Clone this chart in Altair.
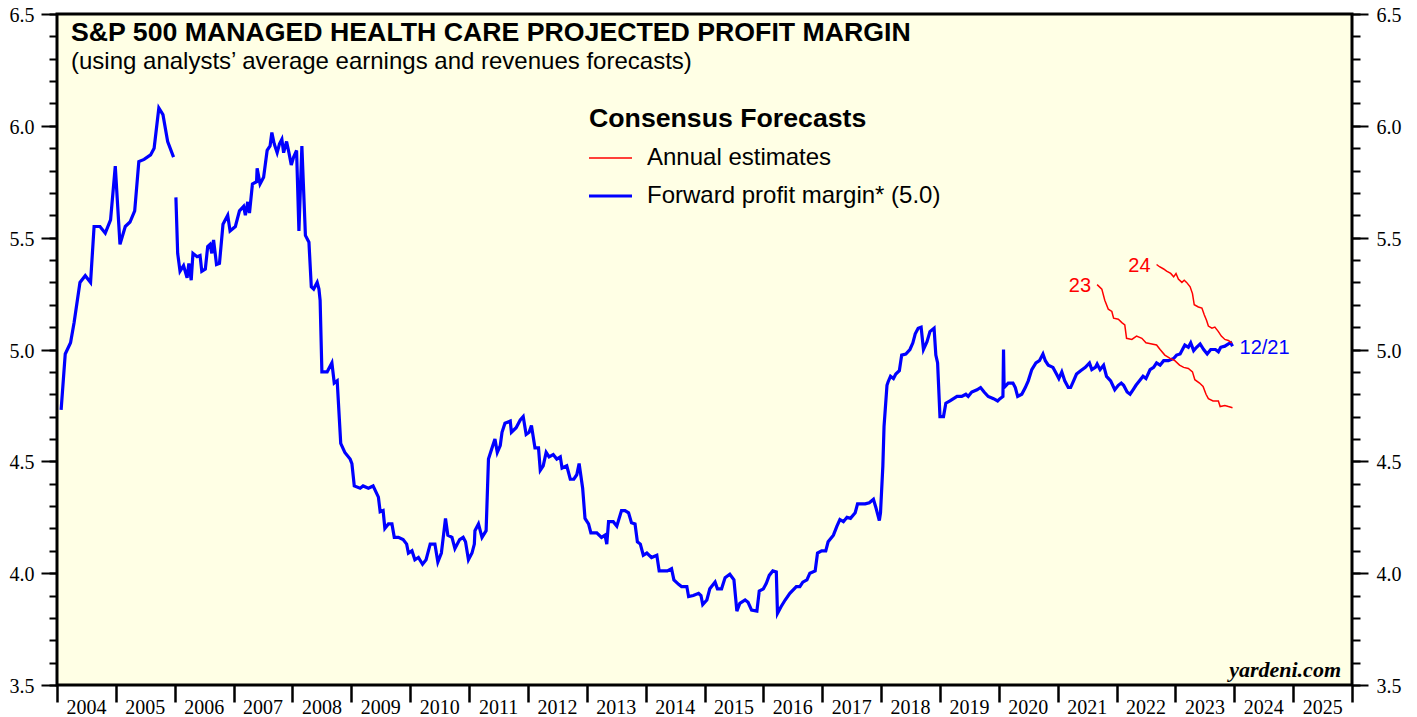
import altair as alt
import pandas as pd

# ---------------- data ----------------
# forward profit margin, first segment (2004-2005)
seg1 = [
    (2004.07, 4.73), (2004.14, 4.98), (2004.23, 5.03), (2004.29, 5.12), (2004.39, 5.30),
    (2004.48, 5.33), (2004.57, 5.30), (2004.63, 5.55), (2004.73, 5.55), (2004.82, 5.52),
    (2004.91, 5.58), (2004.99, 5.82), (2005.07, 5.47), (2005.16, 5.55), (2005.24, 5.57),
    (2005.32, 5.62), (2005.39, 5.84), (2005.48, 5.85), (2005.59, 5.87), (2005.65, 5.90),
    (2005.73, 6.08), (2005.80, 6.05), (2005.88, 5.93), (2005.98, 5.86),
]
# forward profit margin, second segment (2006-2023)
seg2 = [
    (2006.02, 5.68), (2006.05, 5.43), (2006.09, 5.35), (2006.15, 5.375), (2006.21, 5.32),
    (2006.24, 5.385), (2006.28, 5.31), (2006.31, 5.43), (2006.38, 5.415), (2006.43, 5.42),
    (2006.46, 5.35), (2006.52, 5.36), (2006.56, 5.46), (2006.60, 5.47), (2006.63, 5.43),
    (2006.66, 5.49), (2006.71, 5.38), (2006.76, 5.385), (2006.82, 5.56), (2006.90, 5.60),
    (2006.94, 5.53), (2007.03, 5.55), (2007.10, 5.62), (2007.17, 5.64), (2007.20, 5.60),
    (2007.24, 5.66), (2007.27, 5.61), (2007.32, 5.74), (2007.39, 5.75), (2007.40, 5.81),
    (2007.45, 5.74), (2007.51, 5.77), (2007.57, 5.89), (2007.62, 5.91), (2007.65, 5.97),
    (2007.69, 5.92), (2007.74, 5.88), (2007.78, 5.92), (2007.82, 5.94), (2007.85, 5.88),
    (2007.90, 5.93), (2007.94, 5.88), (2007.98, 5.825), (2008.02, 5.86), (2008.07, 5.89),
    (2008.11, 5.53), (2008.16, 5.91), (2008.22, 5.51), (2008.28, 5.48), (2008.32, 5.28),
    (2008.36, 5.27), (2008.42, 5.30), (2008.45, 5.27), (2008.47, 5.22), (2008.50, 4.90),
    (2008.59, 4.90), (2008.67, 4.94), (2008.71, 4.85), (2008.76, 4.86), (2008.82, 4.58),
    (2008.89, 4.54), (2008.98, 4.51), (2009.01, 4.49), (2009.05, 4.39), (2009.15, 4.38),
    (2009.20, 4.39), (2009.29, 4.38), (2009.37, 4.39), (2009.46, 4.34), (2009.49, 4.275),
    (2009.54, 4.28), (2009.57, 4.20), (2009.63, 4.22), (2009.69, 4.22), (2009.73, 4.16),
    (2009.80, 4.16), (2009.88, 4.15), (2009.94, 4.13), (2009.97, 4.09), (2010.03, 4.10),
    (2010.08, 4.06), (2010.14, 4.07), (2010.21, 4.04), (2010.27, 4.06), (2010.34, 4.13),
    (2010.42, 4.13), (2010.47, 4.05), (2010.53, 4.09), (2010.60, 4.245), (2010.64, 4.17),
    (2010.71, 4.16), (2010.76, 4.11), (2010.84, 4.15), (2010.90, 4.16), (2010.94, 4.14),
    (2010.99, 4.06), (2011.05, 4.09), (2011.09, 4.13), (2011.10, 4.19), (2011.16, 4.22),
    (2011.22, 4.16), (2011.29, 4.19), (2011.33, 4.51), (2011.39, 4.56), (2011.44, 4.60),
    (2011.48, 4.54), (2011.53, 4.57), (2011.56, 4.63), (2011.61, 4.67), (2011.70, 4.68),
    (2011.72, 4.63), (2011.80, 4.65), (2011.87, 4.685), (2011.92, 4.70), (2011.97, 4.62),
    (2012.02, 4.63), (2012.06, 4.66), (2012.12, 4.56), (2012.18, 4.56), (2012.21, 4.46),
    (2012.26, 4.48), (2012.31, 4.54), (2012.36, 4.52), (2012.43, 4.53), (2012.49, 4.51),
    (2012.55, 4.52), (2012.58, 4.47), (2012.66, 4.48), (2012.72, 4.42), (2012.78, 4.42),
    (2012.83, 4.44), (2012.87, 4.49), (2012.93, 4.38), (2012.97, 4.245), (2013.03, 4.22),
    (2013.07, 4.18), (2013.17, 4.18), (2013.25, 4.16), (2013.31, 4.17), (2013.34, 4.13),
    (2013.37, 4.23), (2013.45, 4.23), (2013.51, 4.21), (2013.59, 4.28), (2013.65, 4.28),
    (2013.71, 4.27), (2013.76, 4.225), (2013.82, 4.22), (2013.86, 4.14), (2013.91, 4.13),
    (2013.96, 4.08), (2014.02, 4.09), (2014.10, 4.07), (2014.19, 4.08), (2014.23, 4.01),
    (2014.30, 4.01), (2014.37, 4.01), (2014.44, 4.02), (2014.48, 3.97), (2014.56, 3.95),
    (2014.61, 3.94), (2014.70, 3.94), (2014.73, 3.895), (2014.81, 3.90), (2014.90, 3.91),
    (2014.94, 3.90), (2014.97, 3.86), (2015.04, 3.88), (2015.09, 3.93), (2015.18, 3.96),
    (2015.22, 3.93), (2015.29, 3.93), (2015.35, 3.98), (2015.43, 3.995), (2015.50, 3.97),
    (2015.55, 3.83), (2015.60, 3.865), (2015.69, 3.88), (2015.74, 3.87), (2015.80, 3.835),
    (2015.89, 3.83), (2015.93, 3.92), (2016.00, 3.93), (2016.05, 3.955), (2016.10, 3.99),
    (2016.16, 4.01), (2016.22, 4.005), (2016.24, 3.82), (2016.30, 3.85), (2016.37, 3.88),
    (2016.45, 3.91), (2016.56, 3.94), (2016.62, 3.94), (2016.67, 3.96), (2016.74, 3.97),
    (2016.79, 4.00), (2016.88, 4.01), (2016.92, 4.09), (2016.99, 4.10), (2017.06, 4.10),
    (2017.10, 4.14), (2017.19, 4.17), (2017.25, 4.21), (2017.30, 4.24), (2017.36, 4.23),
    (2017.42, 4.25), (2017.48, 4.245), (2017.56, 4.27), (2017.60, 4.31), (2017.67, 4.31),
    (2017.73, 4.31), (2017.80, 4.315), (2017.87, 4.33), (2017.91, 4.295), (2017.97, 4.235),
    (2017.99, 4.27), (2018.03, 4.48), (2018.05, 4.655), (2018.10, 4.84), (2018.12, 4.856),
    (2018.16, 4.88), (2018.21, 4.87), (2018.25, 4.89), (2018.31, 4.905), (2018.35, 4.975),
    (2018.42, 4.98), (2018.49, 5.00), (2018.54, 5.03), (2018.58, 5.07), (2018.63, 5.095),
    (2018.68, 5.10), (2018.72, 5.00), (2018.78, 5.035), (2018.83, 5.08), (2018.90, 5.095),
    (2018.93, 4.975), (2018.96, 4.94), (2019.00, 4.70), (2019.06, 4.70), (2019.10, 4.76),
    (2019.17, 4.77), (2019.23, 4.78), (2019.29, 4.79), (2019.37, 4.79), (2019.44, 4.80),
    (2019.48, 4.79), (2019.54, 4.81), (2019.63, 4.82), (2019.69, 4.83), (2019.75, 4.81),
    (2019.82, 4.79), (2019.91, 4.78), (2019.98, 4.77), (2020.02, 4.78), (2020.07, 4.79),
    (2020.08, 5.00), (2020.09, 4.83), (2020.16, 4.85), (2020.24, 4.85), (2020.28, 4.83),
    (2020.32, 4.79), (2020.39, 4.80), (2020.45, 4.83), (2020.50, 4.86), (2020.56, 4.91),
    (2020.63, 4.94), (2020.69, 4.95), (2020.75, 4.98), (2020.79, 4.95), (2020.84, 4.93),
    (2020.92, 4.92), (2020.98, 4.89), (2021.02, 4.87), (2021.07, 4.90), (2021.12, 4.86),
    (2021.18, 4.83), (2021.22, 4.83), (2021.27, 4.86), (2021.32, 4.89), (2021.39, 4.905),
    (2021.47, 4.92), (2021.54, 4.94), (2021.58, 4.91), (2021.64, 4.92), (2021.67, 4.935),
    (2021.72, 4.91), (2021.78, 4.93), (2021.83, 4.88), (2021.90, 4.86), (2021.97, 4.82),
    (2022.03, 4.84), (2022.08, 4.85), (2022.12, 4.84), (2022.18, 4.81), (2022.23, 4.80),
    (2022.28, 4.82), (2022.33, 4.84), (2022.39, 4.86), (2022.45, 4.88), (2022.50, 4.87),
    (2022.57, 4.91), (2022.63, 4.92), (2022.68, 4.94), (2022.74, 4.93), (2022.80, 4.95),
    (2022.88, 4.95), (2022.97, 4.96), (2023.02, 4.975), (2023.08, 4.98), (2023.12, 5.00),
    (2023.16, 5.02), (2023.22, 5.01), (2023.26, 5.03), (2023.31, 4.995), (2023.36, 5.01),
    (2023.42, 5.025), (2023.48, 5.00), (2023.54, 4.98), (2023.60, 5.00), (2023.68, 5.00),
    (2023.73, 4.99), (2023.77, 5.01), (2023.84, 5.015), (2023.90, 5.025), (2023.94, 5.03),
    (2023.97, 5.015),
]
# annual estimates for 2023
est23 = [
    (2021.67, 5.29), (2021.75, 5.27), (2021.80, 5.22), (2021.86, 5.18), (2021.92, 5.17),
    (2021.95, 5.14), (2022.03, 5.135), (2022.09, 5.12), (2022.14, 5.11), (2022.17, 5.05),
    (2022.26, 5.045), (2022.34, 5.06), (2022.43, 5.05), (2022.50, 5.03), (2022.60, 5.025),
    (2022.68, 5.02), (2022.74, 5.00), (2022.82, 4.975), (2022.91, 4.96), (2022.99, 4.95),
    (2023.07, 4.93), (2023.14, 4.92), (2023.22, 4.915), (2023.29, 4.90), (2023.33, 4.865),
    (2023.41, 4.85), (2023.47, 4.835), (2023.52, 4.80), (2023.56, 4.78), (2023.64, 4.77),
    (2023.73, 4.77), (2023.76, 4.745), (2023.84, 4.75), (2023.90, 4.745), (2023.97, 4.74),
]
# annual estimates for 2024
est24 = [
    (2022.68, 5.38), (2022.73, 5.37), (2022.80, 5.36), (2022.85, 5.35), (2022.92, 5.34),
    (2022.97, 5.325), (2023.01, 5.34), (2023.05, 5.315), (2023.11, 5.30), (2023.15, 5.31),
    (2023.19, 5.30), (2023.25, 5.28), (2023.29, 5.25), (2023.32, 5.20), (2023.39, 5.19),
    (2023.45, 5.185), (2023.49, 5.155), (2023.53, 5.13), (2023.56, 5.105), (2023.62, 5.095),
    (2023.67, 5.10), (2023.73, 5.08), (2023.78, 5.06), (2023.84, 5.045), (2023.90, 5.04),
    (2023.96, 5.03),
]

year_ticks = list(range(2004, 2027))
major_y = [3.5, 4.0, 4.5, 5.0, 5.5, 6.0, 6.5]
minor_y = [round(3.5 + 0.1 * i, 1) for i in range(31)]

# ---------------- tables ----------------
blue_df = pd.DataFrame(
    [{"year": y, "margin": v, "seg": "a"} for y, v in seg1]
    + [{"year": y, "margin": v, "seg": "b"} for y, v in seg2]
)
red_df = pd.DataFrame(
    [{"year": y, "margin": v, "series": "23"} for y, v in est23]
    + [{"year": y, "margin": v, "series": "24"} for y, v in est24]
)
red_lbl_df = pd.DataFrame(
    [{"year": est23[0][0], "margin": est23[0][1], "label": "23"},
     {"year": est24[0][0], "margin": est24[0][1], "label": "24"}]
)
blue_lbl_df = pd.DataFrame([{"year": seg2[-1][0], "margin": seg2[-1][1], "label": "12/21"}])

SANS = "Liberation Sans"
SERIF = "Liberation Serif"

xscale = alt.Scale(domain=[2004, 2026], nice=False, zero=False)
yscale = alt.Scale(domain=[3.5, 6.5], nice=False, zero=False)

x_axis = alt.Axis(
    values=year_ticks, title=None, domain=False, grid=False,
    tickSize=17, tickWidth=2.5, tickColor="black",
    labelExpr="datum.value < 2026 ? format(datum.value, 'd') : ''",
    labelOffset=29, labelAlign="center", labelFlush=False, labelOverlap=False,
    labelFont=SERIF, labelFontSize=20, labelColor="black",
    labelBaseline="alphabetic", labelPadding=11,
)


def y_axis(orient, major):
    if major:
        return alt.Axis(
            orient=orient, values=major_y, format=".1f", title=None, domain=False,
            grid=False, tickSize=16, tickWidth=2, tickColor="black",
            labelFont=SERIF, labelFontSize=20, labelColor="black",
            labelPadding=7 if orient == "left" else 8, labelOverlap=False,
            labelFlush=False, labelOffset=1.5,
        )
    return alt.Axis(
        orient=orient, values=minor_y, labels=False, title=None, domain=False,
        grid=False, tickSize=8, tickWidth=2, tickColor="black",
    )


X = alt.X("year:Q", scale=xscale, axis=x_axis)

blue = alt.Chart(blue_df).mark_line(color="#0000FF", strokeWidth=3.2).encode(
    x=X,
    y=alt.Y("margin:Q", scale=yscale, axis=y_axis("left", True)),
    detail="seg:N",
)
red = alt.Chart(red_df).mark_line(color="#FF0000", strokeWidth=1.5).encode(
    x=X,
    y=alt.Y("margin:Q", scale=yscale, axis=y_axis("left", False)),
    detail="series:N",
)
red_lbl = alt.Chart(red_lbl_df).mark_text(
    color="#FF0000", font=SANS, fontSize=20, align="right", baseline="middle", dx=-6, dy=1
).encode(
    x=X,
    y=alt.Y("margin:Q", scale=yscale, axis=y_axis("right", True)),
    text="label:N",
)
blue_lbl = alt.Chart(blue_lbl_df).mark_text(
    color="#0000FF", font=SANS, fontSize=20, align="left", baseline="middle", dx=7, dy=2
).encode(
    x=X,
    y=alt.Y("margin:Q", scale=yscale, axis=y_axis("right", False)),
    text="label:N",
)

one = alt.Data(values=[{}])


def label(txt, x, y, size, weight="normal", font=SANS, align="left", style="normal", color="black"):
    return alt.Chart(one).mark_text(
        font=font, fontSize=size, fontWeight=weight, fontStyle=style,
        align=align, baseline="middle", color=color,
    ).encode(x=alt.value(x), y=alt.value(y), text=alt.value(txt))


title = label("S&P 500 MANAGED HEALTH CARE PROJECTED PROFIT MARGIN", 14, 19, 26.7, weight="bold")
subtitle = label("(using analysts\u2019 average earnings and revenues forecasts)", 14, 48, 24)
leg_head = label("Consensus Forecasts", 532, 105, 26.7, weight="bold")
leg_red_txt = label("Annual estimates", 590, 144, 24)
leg_blue_txt = label("Forward profit margin* (5.0)", 590, 182, 24)
brand = label("yardeni.com", 1284, 656, 22, weight="bold", font=SERIF, align="right", style="italic")

leg_red = alt.Chart(one).mark_rule(color="#FF0000", strokeWidth=1.5).encode(
    x=alt.value(532), x2=alt.value(575), y=alt.value(144)
)
leg_blue = alt.Chart(one).mark_rule(color="#0000FF", strokeWidth=3.2).encode(
    x=alt.value(532), x2=alt.value(575), y=alt.value(182)
)

chart = (
    alt.layer(
        blue, red, red_lbl, blue_lbl,
        title, subtitle, leg_head, leg_red, leg_red_txt, leg_blue, leg_blue_txt, brand,
    )
    .resolve_axis(y="independent")
    .properties(
        width=1295, height=671,
        autosize=alt.AutoSizeParams(type="none"),
        padding={"left": 49, "top": 6, "right": 57, "bottom": 38},
        background="white",
    )
    .configure_view(fill="#FFFFE5", stroke="black", strokeWidth=3)
)

chart.save("out.html", embed_options={"renderer": "svg", "actions": False})
